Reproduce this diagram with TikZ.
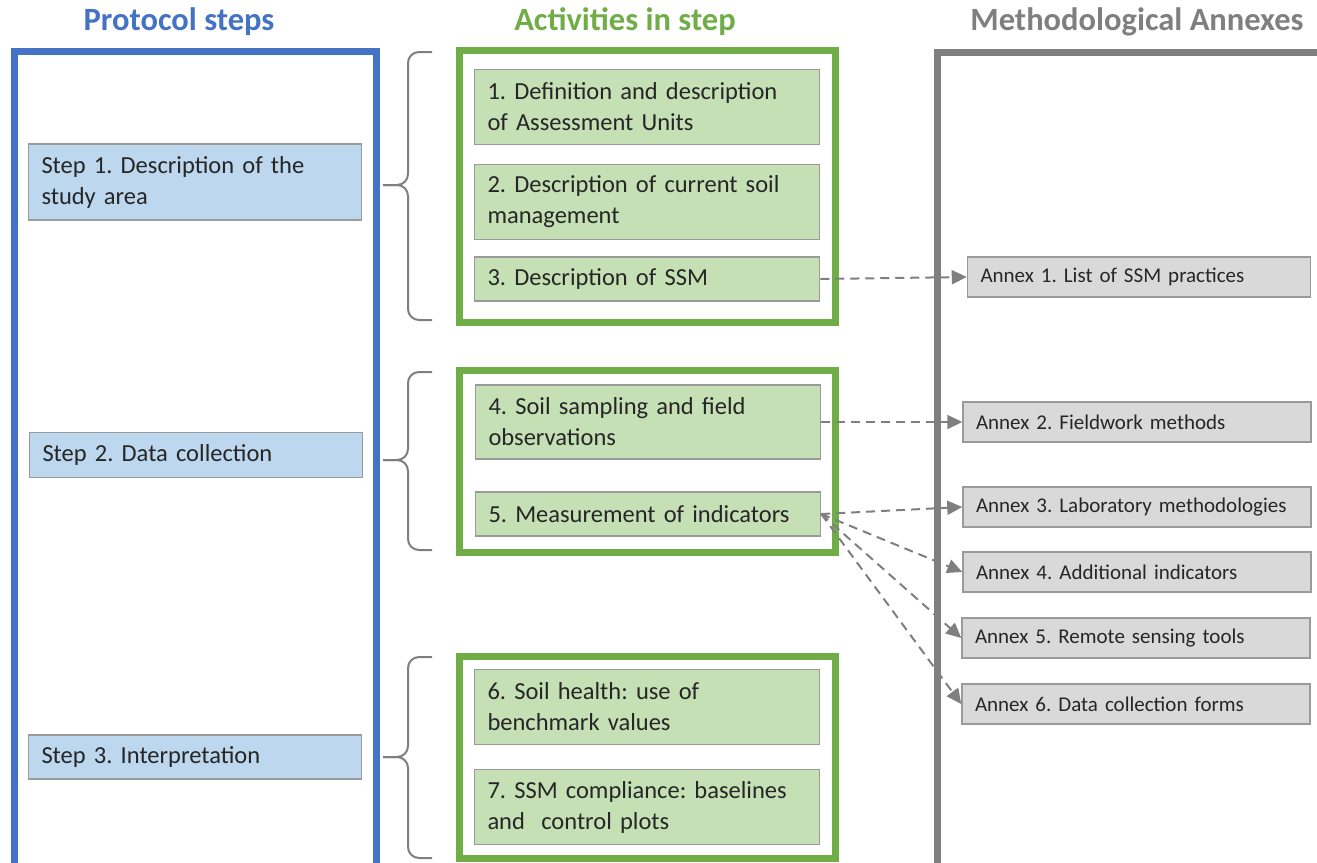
\documentclass[tikz,border=0pt]{standalone}
\usepackage{fontspec}
\setmainfont{Carlito}
\usepackage{tikz}
\usetikzlibrary{arrows.meta}
\frenchspacing
\definecolor{stepblue}{HTML}{4472C4}
\definecolor{stepfill}{HTML}{BDD7EE}
\definecolor{actgreen}{HTML}{70AD47}
\definecolor{actfill}{HTML}{C5E0B4}
\definecolor{annexgray}{HTML}{7F7F7F}
\definecolor{annexfill}{HTML}{D9D9D9}
\definecolor{boxline}{HTML}{9A9A9A}
\definecolor{txt}{HTML}{262626}
\tikzset{
  box/.style={rectangle, draw=boxline, line width=1.5pt, align=left, inner xsep=13pt,
    text=txt, font=\fontsize{24.5}{31}\selectfont},
  stepbox/.style={box, fill=stepfill, text width=307pt},
  actbox/.style={box, fill=actfill, text width=319pt},
  annexbox/.style={box, fill=annexfill, text width=322pt, minimum height=40pt,
    font=\fontsize{21}{24}\selectfont},
  title/.style={font=\fontsize{32.5}{36}\selectfont\bfseries},
  frame/.style={line width=7pt},
  ->-/.style={dashed, dash pattern=on 9pt off 6pt, annexgray, line width=2pt,
    -{Triangle[length=15pt,width=14pt]}},
  brace/.style={annexgray, line width=2pt, rounded corners=11pt}
}
\newcommand{\stepbrace}[3]{%
  \draw[brace] (432,#1) -- (408,#1) -- (408,#2) -- (383,#2);
  \draw[brace] (383,#2) -- (408,#2) -- (408,#3) -- (432,#3);}

\begin{document}
\begin{tikzpicture}[x=1pt, y=-1pt]
  \useasboundingbox (0,0) rectangle (1317,862);
  \begin{scope}
    \clip (0,0) rectangle (1317,862);
    % titles
    \node[title, stepblue] (tsteps) at (179,22) {Protocol steps};
    \node[title, actgreen] (tact) at (625,22) {Activities in step};
    \node[title, annexgray] (tannex) at (1137,22) {Methodological Annexes};
    % frames
    \draw[frame, stepblue] (14,51) rectangle (376,900);
    \draw[frame, actgreen] (459,50) rectangle (835,322);
    \draw[frame, actgreen] (459,370) rectangle (835,552);
    \draw[frame, actgreen] (459,656) rectangle (835,858);
    \draw[frame, annexgray] (937,52) rectangle (1360,900);
    % braces
    \stepbrace{52}{185}{320}
    \stepbrace{372}{460}{550}
    \stepbrace{657}{757}{858}
    % protocol steps
    \node[stepbox, minimum height=76pt] (s1) at (195,182) {Step 1. Description of the\\study area};
    \node[stepbox, minimum height=45pt] (s2) at (196,455) {Step 2. Data collection};
    \node[stepbox, minimum height=44pt] (s3) at (195,757) {Step 3. Interpretation};
    % activities
    \node[actbox, minimum height=75pt] (a1) at (647,107) {1. Definition and description\\of Assessment Units};
    \node[actbox, minimum height=75pt] (a2) at (647,202) {2. Description of current soil\\management};
    \node[actbox, minimum height=44pt] (a3) at (647,279) {3. Description of SSM};
    \node[actbox, minimum height=74pt] (a4) at (648,422) {4. Soil sampling and field\\observations};
    \node[actbox, minimum height=44pt] (a5) at (648,514) {5. Measurement of indicators};
    \node[actbox, minimum height=75pt] (a6) at (647,707) {6. Soil health: use of\\benchmark values};
    \node[actbox, minimum height=75pt] (a7) at (647,807) {7. SSM compliance: baselines\\and\ \ control plots};
    % annexes
    \node[annexbox, text width=317pt] (x1) at (1139,277) {Annex 1. List of SSM practices};
    \node[annexbox] (x2) at (1137,422) {Annex 2. Fieldwork methods};
    \node[annexbox] (x3) at (1137,507) {Annex 3. Laboratory methodologies};
    \node[annexbox] (x4) at (1137,572) {Annex 4. Additional indicators};
    \node[annexbox] (x5) at (1136,638) {Annex 5. Remote sensing tools};
    \node[annexbox] (x6) at (1136,704) {Annex 6. Data collection forms};
    % links to annexes
    \draw[->-] (a3.east) -- (x1.west);
    \draw[->-] (a4.east) -- (x2.west);
    \draw[->-] (a5.east) -- (x3.west);
    \draw[->-] (a5.east) -- (x4.west);
    \draw[->-] (a5.east) -- (x5.west);
    \draw[->-] (a5.east) -- (x6.west);
  \end{scope}
\end{tikzpicture}
\end{document}
